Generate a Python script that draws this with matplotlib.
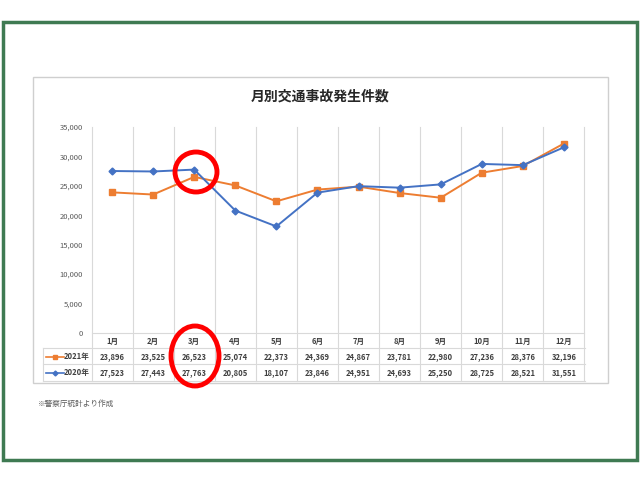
import matplotlib
matplotlib.use("Agg")
import matplotlib.pyplot as plt
from matplotlib.patches import Rectangle, Ellipse
from matplotlib.lines import Line2D
from matplotlib.transforms import blended_transform_factory

plt.rcParams['font.family'] = ['Noto Sans CJK JP', 'DejaVu Sans']

months = ['1月', '2月', '3月', '4月', '5月', '6月', '7月', '8月', '9月', '10月', '11月', '12月']
y2021 = [23896, 23525, 26523, 25074, 22373, 24369, 24867, 23781, 22980, 27236, 28376, 32196]
y2020 = [27523, 27443, 27763, 20805, 18107, 23846, 24951, 24693, 25250, 28725, 28521, 31551]
yticks = [0, 5000, 10000, 15000, 20000, 25000, 30000, 35000]

ORANGE = '#ED7D31'
BLUE = '#4472C4'
GRID = '#d9d9d9'
TXT = '#404040'

W, H = 640, 480


def fx(x):
    return x / W


def fy(y):
    return 1 - y / H


fig = plt.figure(figsize=(6.4, 4.8), dpi=100)
fig.patch.set_facecolor('white')

# outer green frame
fig.patches.append(Rectangle((fx(3), fy(460)), fx(634), 438 / H, transform=fig.transFigure,
                             fill=False, edgecolor='#3F7A52', linewidth=2.5))
# chart box
fig.patches.append(Rectangle((fx(33), fy(383)), fx(575), 306 / H, transform=fig.transFigure,
                             fill=False, edgecolor='#cfcfcf', linewidth=1.0))

fig.text(fx(320), fy(97), '月別交通事故発生件数', ha='center', va='center',
         fontsize=10, fontweight='bold', color='#262626')

ax = fig.add_axes([fx(91.5), fy(333), fx(493), 206 / H])
x = list(range(len(months)))
ax.set_xlim(-0.5, len(months) - 0.5)
ax.set_ylim(0, 35000)
for s in ax.spines.values():
    s.set_visible(False)
ax.set_xticks([])
ax.set_yticks(yticks)
ax.set_yticklabels([f'{v:,}' for v in yticks], fontsize=5.5, color='#595959')
ax.tick_params(axis='y', length=0, pad=6)

bt = blended_transform_factory(ax.transData, fig.transFigure)
for b in range(len(months) + 1):
    ax.add_line(Line2D([b - 0.5, b - 0.5], [fy(127), fy(381)], transform=bt,
                       color=GRID, linewidth=0.8, clip_on=False, zorder=0))

ax.plot(x, y2021, color=ORANGE, linewidth=1.4, marker='s', markersize=4, zorder=3)
ax.plot(x, y2020, color=BLUE, linewidth=1.4, marker='D', markersize=3.5, zorder=3)

# data table
ax.add_line(Line2D([-0.5, len(months) - 0.5], [fy(333), fy(333)], transform=bt,
                   color=GRID, linewidth=0.8, clip_on=False))
for yy in (348, 364, 381):
    fig.lines.append(Line2D([fx(43), fx(585)], [fy(yy), fy(yy)], transform=fig.transFigure,
                            color=GRID, linewidth=0.8))
fig.lines.append(Line2D([fx(43), fx(43)], [fy(348), fy(381)], transform=fig.transFigure,
                        color=GRID, linewidth=0.8))

for i, m in enumerate(months):
    ax.text(i, fy(341), m, transform=bt, ha='center', va='center', fontsize=5.5,
            fontweight='bold', color=TXT)
    ax.text(i, fy(356.5), f'{y2021[i]:,}', transform=bt, ha='center', va='center',
            fontsize=5.5, fontweight='bold', color=TXT)
    ax.text(i, fy(373), f'{y2020[i]:,}', transform=bt, ha='center', va='center',
            fontsize=5.5, fontweight='bold', color=TXT)

for yy, col, mk, ms, lab in ((356.5, ORANGE, 's', 3, '2021年'), (373, BLUE, 'D', 2.5, '2020年')):
    fig.lines.append(Line2D([fx(46), fx(64)], [fy(yy), fy(yy)], transform=fig.transFigure,
                            color=col, linewidth=1.2))
    fig.lines.append(Line2D([fx(55)], [fy(yy)], transform=fig.transFigure, color=col,
                            marker=mk, markersize=ms, linestyle='none'))
    fig.text(fx(77), fy(yy), lab, ha='center', va='center', fontsize=5.5,
             fontweight='bold', color=TXT)

fig.text(fx(38), fy(404), '※警察庁統計より作成', ha='left', va='center',
         fontsize=5.5, color='#595959')

# red highlight circles
fig.patches.append(Ellipse((fx(196), fy(172)), fx(42), 40 / H, transform=fig.transFigure,
                           fill=False, edgecolor='#FF0000', linewidth=3.5, zorder=10))
fig.patches.append(Ellipse((fx(195), fy(356)), fx(48), 60 / H, transform=fig.transFigure,
                           fill=False, edgecolor='#FF0000', linewidth=3.5, zorder=10))

fig.savefig('out.png', dpi=100)
